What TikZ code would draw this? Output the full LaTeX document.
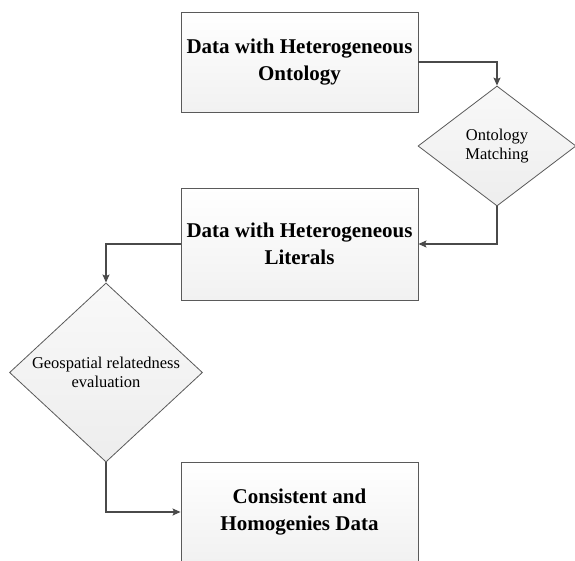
\documentclass[tikz,border=0pt]{standalone}
\usepackage{fontspec}
\setmainfont{Liberation Serif}
\usepackage{tikz}
\usetikzlibrary{arrows.meta,shapes.geometric}

\definecolor{linegray}{HTML}{4A4A4A}
\definecolor{edgegray}{HTML}{5A5A5A}

\begin{document}
\begin{tikzpicture}[x=1pt,y=1pt,->,>={Stealth[length=8pt,width=7pt,inset=1.5pt]},thick,
  data node/.style={rectangle,draw=edgegray,line width=0.9pt,top color=white,bottom color=gray!11,
    minimum width=237pt,align=center,font=\fontsize{21}{26.5}\selectfont\bfseries},
  check node/.style={diamond,draw=edgegray,line width=0.8pt,top color=gray!5,bottom color=gray!14,
    inner sep=0pt,align=center,font=\fontsize{16.5}{19.5}\selectfont},
  flow/.style={draw=linegray,line width=1.1pt}]

  \useasboundingbox (0,0) rectangle (575,-560);

  \node[data node,minimum height=100pt] (onto) at (299.5,-62) {Data with Heterogeneous\\Ontology};
  \node[check node,minimum width=158pt,minimum height=120pt] (match) at (497,-146) {Ontology\\Matching};
  \node[data node,minimum height=112pt] (lit) at (299.5,-244) {Data with Heterogeneous\\Literals};
  \node[check node,minimum width=193pt,minimum height=143pt] (geo) at (106,-372.5) {Geospatial relatedness\\evaluation};
  \node[data node,minimum height=100pt] (cons) at (299.5,-512) {Consistent and\\Homogenies Data};

  % connectors
  \draw[flow] (onto.east) -| (match.north);
  \draw[flow] (match.south) |- (lit.east);
  \draw[flow] (lit.west) -| (geo.north);
  \draw[flow] (geo.south) |- (cons.west);

\end{tikzpicture}
\end{document}
